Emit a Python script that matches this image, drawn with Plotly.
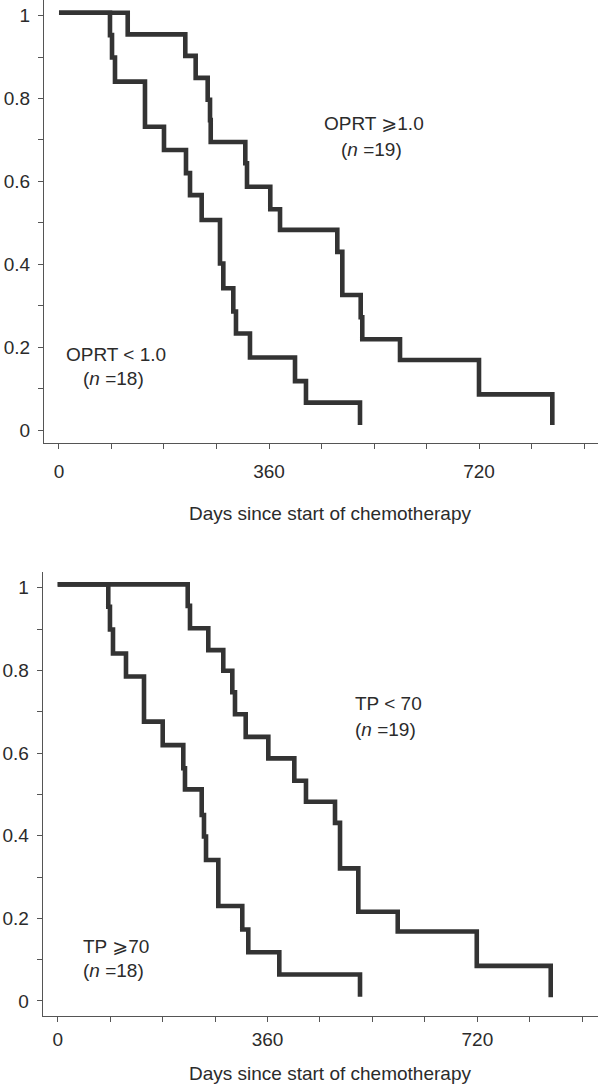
import plotly.graph_objects as go

# ---------------- data ----------------
# Top panel: OPRT
oprt_hi_days = [0, 117.8, 216.5, 234.3, 254.9, 258.9, 260.1, 319.4, 322.3, 362.2, 378.9,
                477.1, 485.7, 517.2, 519.9, 584.6, 720.0, 845.7]
oprt_hi_surv = [1.007, 0.955, 0.903, 0.850, 0.797, 0.748, 0.695, 0.644, 0.587, 0.533, 0.483,
                0.430, 0.326, 0.272, 0.219, 0.169, 0.086, 0.012]

oprt_lo_days = [0, 87.4, 90.9, 96.0, 147.4, 180.0, 217.7, 224.6, 244.6, 276.0, 281.7,
                298.8, 303.4, 327.4, 404.6, 423.4, 516.0]
oprt_lo_surv = [1.007, 0.953, 0.899, 0.841, 0.732, 0.676, 0.620, 0.567, 0.507, 0.402, 0.342,
                0.286, 0.233, 0.175, 0.118, 0.066, 0.012]

# Bottom panel: TP
tp_lo_days = [0, 223.1, 227.0, 258.4, 284.1, 299.6, 304.2, 322.6, 361.4, 406.0, 426.0,
              475.8, 484.4, 515.8, 583.4, 719.0, 845.9]
tp_lo_surv = [1.008, 0.956, 0.902, 0.849, 0.799, 0.747, 0.694, 0.639, 0.587, 0.533, 0.482,
              0.431, 0.321, 0.216, 0.168, 0.085, 0.009]

tp_hi_days = [0, 86.8, 89.7, 94.9, 117.2, 148.1, 180.2, 215.5, 218.4, 247.1, 251.0,
              254.5, 275.6, 316.7, 327.0, 380.2, 518.7]
tp_hi_surv = [1.008, 0.954, 0.899, 0.841, 0.785, 0.676, 0.619, 0.563, 0.512, 0.450, 0.398,
              0.341, 0.230, 0.173, 0.118, 0.064, 0.010]

x_tick_vals = [0, 360, 720]
x_tick_text = ["0", "360", "720"]
y_tick_vals = [0, 0.2, 0.4, 0.6, 0.8, 1.0]
y_tick_text = ["0", "0.2", "0.4", "0.6", "0.8", "1"]
x_title = "Days since start of chemotherapy"

# ---------------- figure ----------------
W, H = 600, 1085
FONT = "Liberation Sans, Arial, Helvetica, DejaVu Sans, sans-serif"
LINE_COLOR = "#333333"
AXIS_COLOR = "#555555"
TEXT_COLOR = "#2b2b2b"

fig = go.Figure()

def add_curve(days, surv, xa, ya):
    fig.add_trace(go.Scatter(
        x=days, y=surv, mode="lines", line_shape="hv",
        line=dict(color=LINE_COLOR, width=4.6),
        xaxis=xa, yaxis=ya, showlegend=False, hoverinfo="skip"))

add_curve(oprt_hi_days, oprt_hi_surv, "x", "y")
add_curve(oprt_lo_days, oprt_lo_surv, "x", "y")
add_curve(tp_lo_days, tp_lo_surv, "x2", "y2")
add_curve(tp_hi_days, tp_hi_surv, "x2", "y2")

def py(p):
    return 1 - p / H

def px(p):
    return p / W

common_x = dict(
    automargin=False,
    showgrid=False, zeroline=False, showline=True, linecolor=AXIS_COLOR, linewidth=1.2,
    ticks="outside", ticklen=5, tickwidth=1, tickcolor=AXIS_COLOR,
    tickvals=x_tick_vals, ticktext=x_tick_text,
    minor=dict(ticks="outside", ticklen=5, tickwidth=1, tickcolor=AXIS_COLOR,
               tickvals=[90, 180, 270, 450, 540, 630, 810, 900]),
    tickfont=dict(family=FONT, size=19, color=TEXT_COLOR),
)
common_y = dict(
    automargin=False,
    showgrid=False, zeroline=False, showline=True, linecolor=AXIS_COLOR, linewidth=1.2,
    ticks="outside", ticklen=5, tickwidth=1, tickcolor=AXIS_COLOR,
    tickvals=y_tick_vals, ticktext=y_tick_text,
    minor=dict(ticks="outside", ticklen=5, tickwidth=1, tickcolor=AXIS_COLOR,
               tickvals=[0.1, 0.3, 0.5, 0.7, 0.9]),
    tickfont=dict(family=FONT, size=19, color=TEXT_COLOR),
    ticklabelstandoff=4,
)

fig.update_layout(
    width=W, height=H,
    margin=dict(l=0, r=0, t=0, b=0, autoexpand=False),
    paper_bgcolor="white", plot_bgcolor="white",
    xaxis=dict(common_x, domain=[px(44), px(598)], range=[-25.7, 924], anchor="y",
               ticklabelstandoff=6),
    yaxis=dict(common_y, domain=[py(443.3), 1.0], range=[-0.0321, 1.0379], anchor="x"),
    xaxis2=dict(common_x, domain=[px(42.7), px(598)], range=[-25.7, 927], anchor="y2",
                ticklabelstandoff=1),
    yaxis2=dict(common_y, domain=[py(1015.7), py(572.3)], range=[-0.0356, 1.0373], anchor="x2"),
)

def label(text, x, y, anchor="center"):
    fig.add_annotation(text=text, xref="paper", yref="paper", x=px(x), y=py(y),
                       xanchor=anchor, yanchor="middle", showarrow=False,
                       font=dict(family=FONT, size=19, color=TEXT_COLOR))

label("OPRT ⩾1.0", 373.8, 123)
label("(<i>n</i> =19)", 371.3, 149.5)
label("OPRT < 1.0", 115.8, 354)
label("(<i>n</i> =18)", 113.3, 378)
label("TP < 70", 353.3, 703, "left")
label("(<i>n</i> =19)", 353.3, 729, "left")
label("TP ⩾70", 81, 946, "left")
label("(<i>n</i> =18)", 81, 970, "left")
label(x_title, 330, 513)
label(x_title, 330, 1073.5)

fig.write_html(
    "out.html",
    config={"displayModeBar": False},
    post_script="document.body.style.margin='0';document.body.style.overflow='hidden';",
)
